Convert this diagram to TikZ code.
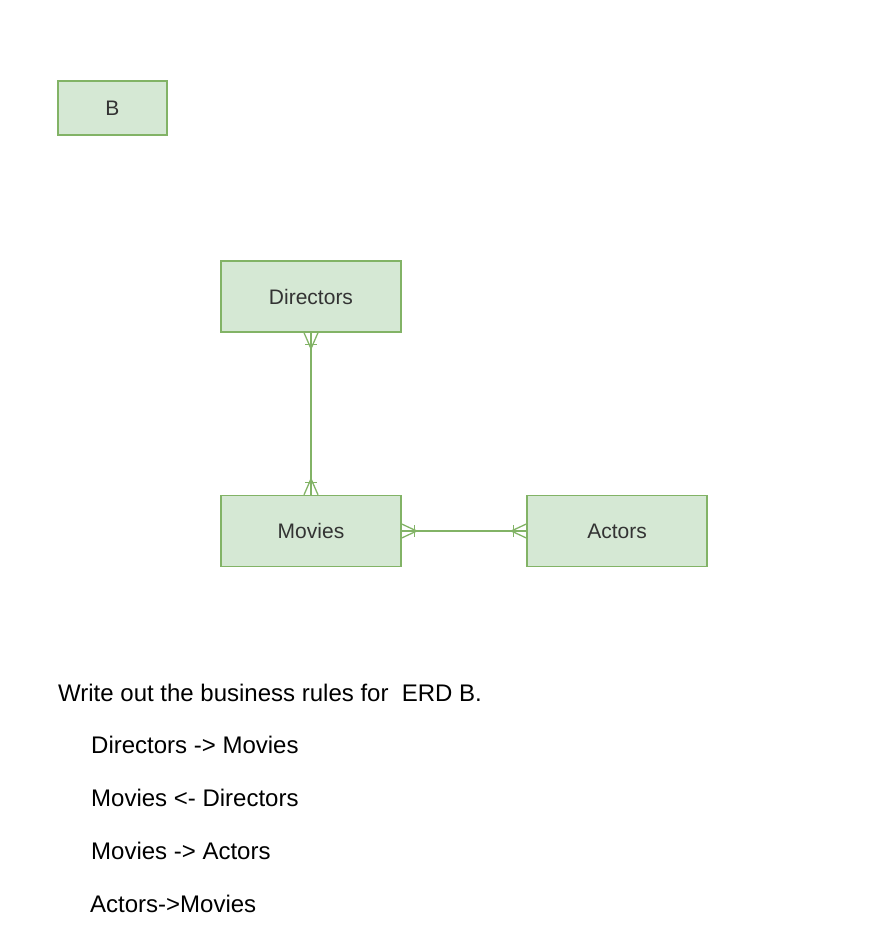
\documentclass[tikz,border=0pt]{standalone}
\usepackage{fontspec}
\setmainfont{Liberation Sans}
\usetikzlibrary{calc}
\definecolor{boxfill}{HTML}{D5E8D4}
\definecolor{boxline}{HTML}{82B366}
\definecolor{labelgray}{HTML}{333333}
\begin{document}
\begin{tikzpicture}[x=1pt,y=-1pt,
  entity/.style={draw=boxline,fill=boxfill,line width=1.4pt,minimum width=180pt,minimum height=71pt,inner sep=0pt,font=\fontsize{21}{24}\selectfont,text=labelgray},
  rel/.style={draw=boxline,line width=1.3pt},
  rule/.style={anchor=base west,inner sep=0pt,font=\fontsize{24}{28}\selectfont,text=black}]
\useasboundingbox (0,0) rectangle (894,942);
\node[entity,minimum width=109pt,minimum height=54pt] (b) at (112.5,108) {B};
\node[entity] (dir) at (311,296.5) {Directors};
\node[entity] (mov) at (311,531) {Movies};
\node[entity] (act) at (617,531) {Actors};
% vertical relationship
\draw[rel] (dir.south) -- (mov.north);
\draw[rel] ($(dir.south)+(-7,0)$) -- ($(dir.south)+(0,16)$) -- ($(dir.south)+(7,0)$);
\draw[rel] ($(dir.south)+(-6,12)$) -- ($(dir.south)+(6,12)$);
\draw[rel] ($(mov.north)+(-7,0)$) -- ($(mov.north)+(0,-16)$) -- ($(mov.north)+(7,0)$);
\draw[rel] ($(mov.north)+(-6,-12)$) -- ($(mov.north)+(6,-12)$);
% horizontal relationship
\draw[rel] (mov.east) -- (act.west);
\draw[rel] ($(mov.east)+(0,-7)$) -- ($(mov.east)+(15,0)$) -- ($(mov.east)+(0,7)$);
\draw[rel] ($(mov.east)+(13,-6)$) -- ($(mov.east)+(13,6)$);
\draw[rel] ($(act.west)+(0,-7)$) -- ($(act.west)+(-15,0)$) -- ($(act.west)+(0,7)$);
\draw[rel] ($(act.west)+(-13,-6)$) -- ($(act.west)+(-13,6)$);
% text
\node[rule] (q) at (58,701) {Write out the business rules for\ \ ERD B.};
\node[rule] (r1) at (91,753) {Directors -> Movies};
\node[rule] (r2) at (91,806) {Movies <- Directors};
\node[rule] (r3) at (91,859) {Movies -> Actors};
\node[rule] (r4) at (90,912) {Actors->Movies};
\end{tikzpicture}
\end{document}
